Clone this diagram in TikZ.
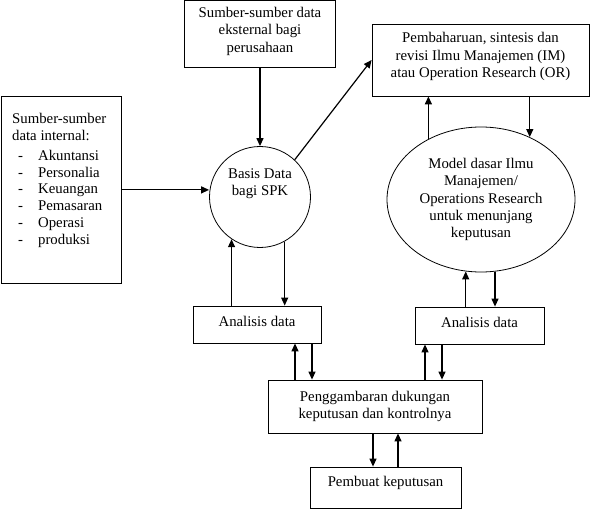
\documentclass[tikz,border=0pt]{standalone}
\usepackage{fontspec}
\setmainfont{Liberation Serif}
\usepackage{tikz}
\usetikzlibrary{positioning, arrows.meta, shapes.geometric}

\begin{document}
\begin{tikzpicture}[
		x=1pt, y=-1pt, % Pixel-like units
		>={Triangle[length=8pt, width=7pt]}, % Arrow style
		every node/.style={font=\fontsize{14.8}{17.4}\selectfont, align=center},
		box/.style={draw, line width=0.8pt, inner sep=0pt},
		flow/.style={->, line width=1.2pt}
	]
	\useasboundingbox (0,0) rectangle (592,524);

	% External data sources
	\node[box, minimum width=151, minimum height=67, text depth=9pt] (external) at (260,34) {Sumber-sumber data\\eksternal bagi\\perusahaan};

	% Internal data sources
	\node[box, anchor=north west, minimum width=120.5, minimum height=187, align=left, inner xsep=11, inner ysep=17] (internal) at (0.5,96) {\parbox[t][153pt][t]{98pt}{\fontsize{14.8}{16.8}\selectfont Sumber-sumber\\data internal:\\[3pt]
		\hspace*{6pt}\makebox[20pt][l]{-}Akuntansi\\
		\hspace*{6pt}\makebox[20pt][l]{-}Personalia\\
		\hspace*{6pt}\makebox[20pt][l]{-}Keuangan\\
		\hspace*{6pt}\makebox[20pt][l]{-}Pemasaran\\
		\hspace*{6pt}\makebox[20pt][l]{-}Operasi\\
		\hspace*{6pt}\makebox[20pt][l]{-}produksi}};

	% Database for the DSS
	\node[box, circle, minimum size=101, text depth=30pt] (basis) at (260,197) {Basis Data\\bagi SPK};

	% Renewal of IM / OR
	\node[box, minimum width=217, minimum height=72, text depth=10pt] (renew) at (480.5,60) {Pembaharuan, sintesis dan\\revisi Ilmu Manajemen (IM)\\atau Operation Research (OR)};

	% Basic models
	\node[box, ellipse, minimum width=188, minimum height=145] (model) at (481,199.5) {Model dasar Ilmu\\Manajemen/\\Operations Research\\untuk menunjang\\keputusan};

	% Data analysis boxes
	\node[box, minimum width=128, minimum height=37, text depth=7pt] (anaL) at (257,324.5) {Analisis data};
	\node[box, minimum width=129, minimum height=37, text depth=7pt] (anaR) at (479.5,325.5) {Analisis data};

	% Decision support description
	\node[box, minimum width=214, minimum height=53] (desc) at (375,406.5) {Penggambaran dukungan\\keputusan dan kontrolnya};

	% Decision maker
	\node[box, minimum width=151, minimum height=41, text depth=12pt] (maker) at (385.5,487.5) {Pembuat keputusan};

	% Sources into the database
	\draw[flow] (external) -- (basis);
	\draw[flow] (internal.east) -- (internal.east -| basis.west);
	\draw[flow] (basis.47) -- (renew.west);

	% Renewal and models
	\draw[flow] (model.131) -- (model.131 |- renew.south);
	\draw[flow] (model.52 |- renew.south) -- (model.52);

	% Database / models and analysis
	\draw[flow] (anaL.north -| basis.236) -- (basis.236);
	\draw[flow] (basis.299) -- (basis.299 |- anaL.north);
	\draw[flow] (anaR.north -| model.258) -- (model.258);
	\draw[flow] (model.281) -- (model.281 |- anaR.north);

	% Analysis and description
	\coordinate (l1) at ([xshift=-80pt]desc.north);
	\coordinate (l2) at ([xshift=-63pt]desc.north);
	\coordinate (r1) at ([xshift=50pt]desc.north);
	\coordinate (r2) at ([xshift=67pt]desc.north);
	\draw[flow] (l1) -- (l1 |- anaL.south);
	\draw[flow] (l2 |- anaL.south) -- (l2);
	\draw[flow] (r1) -- (r1 |- anaR.south);
	\draw[flow] (r2 |- anaR.south) -- (r2);

	% Description and decision maker
	\coordinate (m1) at ([xshift=-12.5pt]maker.north);
	\coordinate (m2) at ([xshift=12.5pt]maker.north);
	\draw[flow] (m1 |- desc.south) -- (m1);
	\draw[flow] (m2) -- (m2 |- desc.south);

\end{tikzpicture}
\end{document}
